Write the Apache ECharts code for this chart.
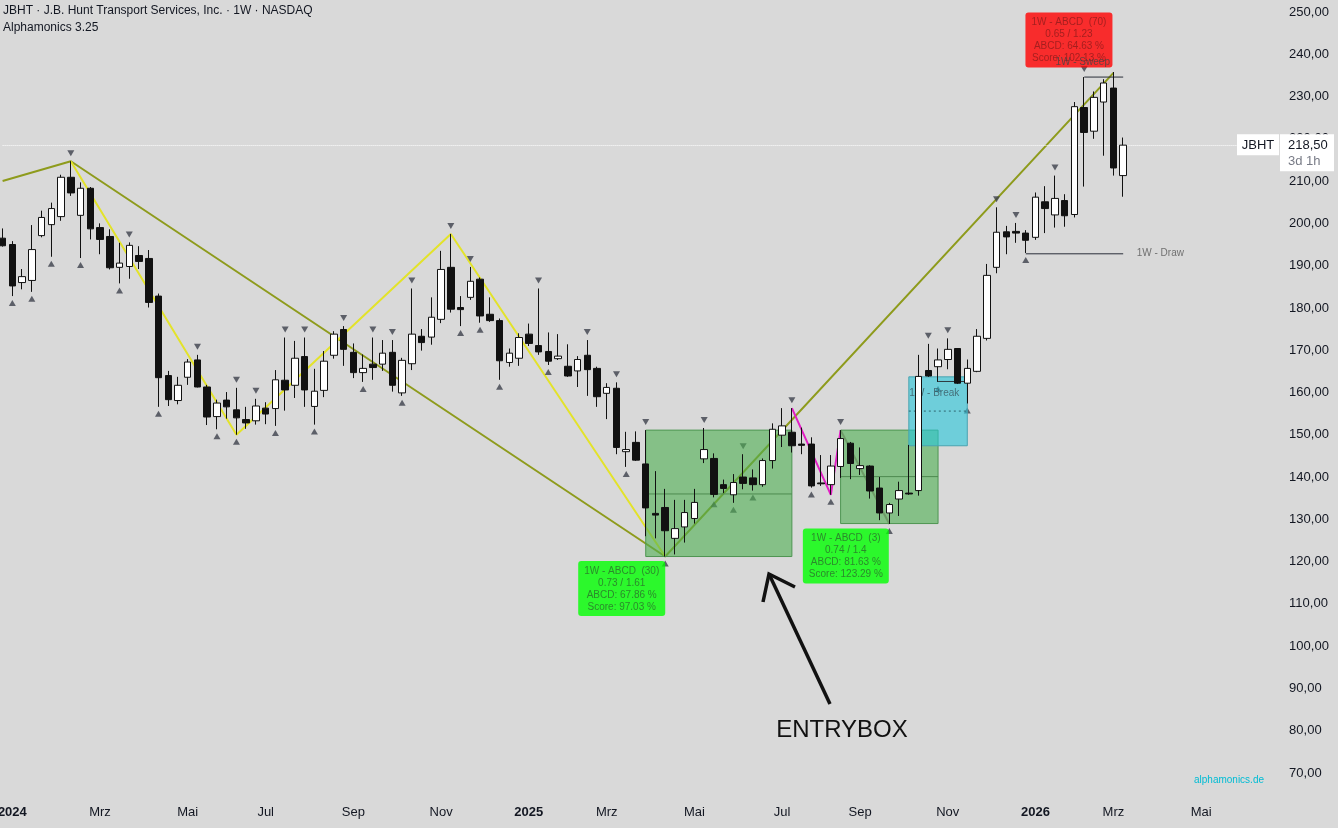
<!DOCTYPE html>
<html><head><meta charset="utf-8">
<script src="https://cdn.jsdelivr.net/npm/echarts@6/dist/echarts.min.js"></script>
<style>html,body{margin:0;padding:0;background:#d9d9d9;}#c{width:1338px;height:828px;}</style>
</head><body><div id="c"></div>
<script>
// ---------- data ----------
const firstWeek = '2023-12-25';
const weekCount = 132;           // weekly categories incl. empty future weeks
const monthNames = ['Jan','Feb','Mrz','Apr','Mai','Jun','Jul','Aug','Sep','Okt','Nov','Dez'];

const opens = [
 196.5,195.0,186.0,186.5,197.1,199.7,201.6,210.9,201.9,208.3,
 199.0,196.9,189.6,189.8,192.4,191.7,182.8,164.0,158.1,163.6,
 167.7,161.3,154.3,158.2,155.9,153.6,153.3,156.3,156.2,162.9,
 161.7,168.5,156.7,160.5,168.8,174.9,169.5,164.7,166.7,166.7,
 169.5,159.9,166.8,173.3,173.1,177.3,189.6,180.1,182.5,186.8,
 178.5,177.0,167.1,168.1,173.8,171.1,169.7,168.0,166.2,165.1,
 168.8,165.7,159.8,161.0,146.0,148.2,143.1,131.4,132.8,125.5,
 128.2,130.2,144.3,144.4,138.2,135.8,140.0,139.8,138.2,143.9,
 149.9,150.6,147.8,147.8,138.6,138.2,142.5,148.0,142.0,142.6,
 137.4,131.5,134.8,136.2,136.8,165.2,166.1,167.8,170.4,162.2,
 165.0,172.8,189.6,198.0,198.1,197.7,196.7,205.1,202.0,205.4,
 202.1,227.4,221.8,228.7,232.0,211.3];
const closes = [
 194.7,185.2,187.4,193.8,201.4,203.5,210.9,207.2,208.3,198.7,
 196.2,189.5,190.6,194.8,191.0,181.3,163.5,158.3,161.7,167.2,
 161.3,154.2,157.5,156.6,154.0,152.8,156.8,154.9,163.0,160.6,
 168.1,160.6,160.3,167.4,173.8,170.2,164.7,165.7,165.9,169.3,
 161.7,167.6,173.8,171.8,177.8,189.1,179.7,179.6,186.3,178.1,
 177.0,167.5,169.3,173.0,171.6,169.6,167.4,168.6,163.9,167.8,
 165.4,159.0,161.2,147.0,146.5,144.0,132.7,131.0,127.3,127.8,
 131.6,134.0,146.5,135.9,137.3,138.7,138.5,138.2,143.9,151.3,
 152.1,147.4,147.5,137.9,138.4,142.6,149.1,143.2,142.7,136.7,
 131.5,133.5,136.8,136.0,163.8,163.9,167.7,170.2,162.2,165.7,
 173.3,187.7,197.9,196.8,197.7,196.0,206.2,203.5,205.9,201.8,
 227.6,221.5,229.8,233.2,213.1,218.5];
const lows = [
 194.5,182.8,184.4,183.8,196.7,192.1,200.6,206.5,191.8,196.2,
 192.7,189.1,185.8,186.9,189.2,180.1,156.6,156.8,157.2,161.8,
 161.2,152.3,151.3,153.8,150.0,151.4,152.4,152.5,152.1,155.7,
 158.7,156.6,152.4,158.9,168.0,166.3,163.4,162.5,163.0,165.1,
 160.2,159.2,165.3,169.9,171.3,176.4,178.9,175.7,181.9,176.5,
 176.7,163.0,166.1,166.3,171.0,168.9,166.5,167.7,163.7,161.3,
 159.2,156.6,153.7,145.4,142.4,143.8,126.0,125.5,121.2,121.7,
 124.5,129.0,143.3,135.2,136.2,133.9,137.1,136.8,137.7,142.0,
 147.1,145.8,145.4,137.5,137.9,135.8,139.8,139.5,140.5,134.9,
 129.8,128.9,130.8,135.8,135.6,163.7,162.5,165.5,162.0,157.4,
 164.8,172.3,188.2,192.7,195.4,193.0,196.1,197.7,199.0,199.2,
 201.4,208.7,220.0,216.0,211.3,206.3];
const highs = [
 198.8,195.8,189.2,199.6,203.0,204.9,211.5,214.7,209.7,208.6,
 200.0,198.6,195.4,195.5,194.6,193.7,183.4,165.1,163.7,167.9,
 168.9,161.8,158.3,160.1,161.1,156.6,158.5,157.7,165.3,173.0,
 172.2,173.0,165.6,169.8,174.5,175.7,171.6,169.0,173.0,172.4,
 172.4,168.2,184.6,175.0,182.5,193.5,197.5,182.8,189.7,187.2,
 182.5,177.5,170.4,174.0,176.3,184.6,174.2,173.8,171.4,168.6,
 172.4,166.1,162.2,162.4,150.7,150.8,151.1,141.4,137.2,134.6,
 134.6,137.2,151.6,145.6,139.4,140.7,145.4,141.8,144.4,152.7,
 156.3,156.3,151.7,149.4,145.2,145.2,151.1,148.3,147.0,142.8,
 140.0,133.9,138.9,147.6,168.9,171.5,170.4,172.8,170.4,167.8,
 175.0,190.4,203.8,199.4,200.1,198.4,207.3,208.8,211.3,206.9,
 228.7,234.6,231.2,234.1,235.8,220.3];

const pivotHighIdx = [7,13,20,24,26,29,31,35,38,40,42,46,48,55,60,63,66,72,76,81,86,95,97,102,104,108,111];
const pivotLowIdx  = [1,3,5,8,12,16,22,24,28,32,37,41,47,49,51,56,64,68,73,75,77,83,85,91,96,99,105];

const olivePath   = [[0,210.0],[7,214.7],[68,121.2],[114,235.6]];
const yellowPath  = [[7,214.7],[24,150.0],[46,197.5],[68,121.2]];
const magentaPath = [[81,156.3],[85,135.8],[86,151.1]];
const mauvePath   = [[86,151.1],[91,128.9]];

// [fromWeek, toWeek, top, bottom, midLevel]
const entryBoxes = [[66,81,151.1,121.2,136.0],[86,96,151.1,129.0,140.1]];
const breakBoxes = [[93,99,163.7,147.4,155.6]];

const drawLevel  = [[105,192.8],[115,192.8]];
const sweepLevel = [[111,234.6],[115,234.6]];
const breakLevel = [[96,162.6],[99,162.6]];

const abcdLabels = [
  {at:[68,121.2], text:['1W - ABCD  (30)','0.73 / 1.61','ABCD: 67.86 %','Score: 97.03 %'], kind:'green'},
  {at:[91,128.9], text:['1W - ABCD  (3)','0.74 / 1.4','ABCD: 81.63 %','Score: 123.29 %'], kind:'green'},
  {at:[114,235.8], text:['1W - ABCD  (70)','0.65 / 1.23','ABCD: 64.63 %','Score: 102.13 %'], kind:'red'}
];
const lastPrice = 218.5;
const ticker = 'JBHT';
const countdown = '3d 1h';

// ---------- build ----------
const FONT = 'Liberation Sans, Arial, sans-serif';
const categories = [];
const t0 = Date.parse(firstWeek + 'T00:00:00Z');
for (let k = 0; k < weekCount; k++) categories.push(new Date(t0 + k * 7 * 86400000).toISOString().slice(0,10));
const candles = opens.map((o,i) => [o, closes[i], lows[i], highs[i]]);
const fmtPrice = v => v.toFixed(2).replace('.', ',');
const HIDE = 'rgba(0,0,0,0)';

function boxRenderer(fill, stroke, midStroke, midDash) {
  return function (params, api) {
    const a = api.coord([api.value(0), api.value(2)]);
    const b = api.coord([api.value(1), api.value(3)]);
    const m0 = api.coord([api.value(0), api.value(4)]);
    const m1 = api.coord([api.value(1), api.value(4)]);
    return {type:'group', children:[
      {type:'rect', shape:{x:a[0], y:a[1], width:b[0]-a[0], height:b[1]-a[1]}, style:{fill:fill, stroke:stroke, lineWidth:1}},
      {type:'line', shape:{x1:m0[0], y1:m0[1], x2:m1[0], y2:m1[1]}, style:{stroke:midStroke, lineWidth:1, lineDash:midDash}}
    ]};
  };
}
function pathSeries(data, color, width, z) {
  return {type:'line', data:data, symbol:'none', showSymbol:false, silent:true, z:z, clip:false,
          lineStyle:{color:color, width:width}, animation:false};
}
function textPoint(at, text, pos, align, vAlign, color, z) {
  return {type:'scatter', z:z, silent:true, symbolSize:1, itemStyle:{color:HIDE},
    data:[{value:at, label:{show:true, formatter:text, position:pos, align:align, verticalAlign:vAlign,
      color:color, fontSize:10, fontFamily:FONT}}]};
}

const chart = echarts.init(document.getElementById('c'), null, {renderer:'canvas'});
const series = [
  pathSeries(olivePath, '#8e9b1c', 2, 1),
  pathSeries(yellowPath, '#e3e32a', 2, 1),
  pathSeries(magentaPath, '#e21fc4', 2, 1),
  pathSeries(mauvePath, '#a17f8b', 2, 1),
  {type:'scatter', z:2, silent:true, symbol:'triangle', symbolSize:[7,6], symbolRotate:180, symbolOffset:[0,-8],
   itemStyle:{color:'#3c404b'}, data: pivotHighIdx.map(j => [j, highs[j]])},
  {type:'scatter', z:2, silent:true, symbol:'triangle', symbolSize:[7,6], symbolOffset:[0,7],
   itemStyle:{color:'#3c404b'}, data: pivotLowIdx.map(j => [j, lows[j]])},
  {type:'custom', z:3, silent:true, renderItem: boxRenderer('rgba(76,175,80,0.6)','#4f9552','#4d8a4f',null),
   encode:{x:[0,1], y:[2,3]}, data: entryBoxes},
  {type:'custom', z:3, silent:true, renderItem: boxRenderer('rgba(38,198,218,0.6)','#4aa3b0','#2e6670',[2,3]),
   encode:{x:[0,1], y:[2,3]}, data: breakBoxes},
  pathSeries(breakLevel, '#2f3a40', 1, 4),
  textPoint([breakBoxes[0][0], breakBoxes[0][2]], '1W - Break', [1,17], 'left', 'middle', '#3b5860', 4),
  {type:'candlestick', z:5, data: candles, barWidth:7, silent:true, clip:false,
   itemStyle:{color:'#ffffff', color0:'#111111', borderColor:'#111111', borderColor0:'#111111', borderWidth:1},
   markLine:{symbol:['none','none'], silent:true, label:{show:false}, animation:false,
     lineStyle:{color:'#ffffff', type:'dotted', width:1}, data:[{yAxis:lastPrice}]}},
  pathSeries(drawLevel, '#2a2e39', 1, 5),
  pathSeries(sweepLevel, '#2a2e39', 1, 5),
  textPoint(drawLevel[1], '1W - Draw', [14,0], 'left', 'middle', '#555555', 5),
  {type:'scatter', z:6, silent:true, symbolSize:1, itemStyle:{color:HIDE},
   data: abcdLabels.map(l => ({value:l.at, label:{show:true, formatter:l.text.join('\n'),
     position: l.kind === 'red' ? [-44,-4] : [-43,5], align:'center',
     verticalAlign: l.kind === 'red' ? 'bottom' : 'top',
     backgroundColor: l.kind === 'red' ? '#ff0000' : '#00ff00',
     color: l.kind === 'red' ? '#8e1b1b' : '#2c6e2c',
     fontSize:10, lineHeight:12, padding:[4,6,3,6], borderRadius:3, fontFamily:FONT}}))},
  textPoint(sweepLevel[0], '1W - Sweep', [-1,-14], 'center', 'middle', '#444444', 7)
];

chart.setOption({
  animation:false,
  backgroundColor:'#d9d9d9',
  textStyle:{fontFamily:FONT},
  grid:{left:2.6, right:58.9, top:0, bottom:12.72, containLabel:false, outerBoundsMode:'none'},
  xAxis:{type:'category', data:categories, boundaryGap:false, offset:-17,
    axisLine:{show:false}, axisTick:{show:false}, splitLine:{show:false},
    axisLabel:{color:'#131722', fontSize:13, margin:8, fontFamily:FONT, hideOverlap:false,
      interval:(idx, val) => { const d = new Date(val + 'T00:00:00Z'); return d.getUTCDate() <= 7 && d.getUTCMonth() % 2 === 0; },
      formatter:(val) => { const d = new Date(val + 'T00:00:00Z'); const m = d.getUTCMonth();
        return m === 0 ? '{y|' + d.getUTCFullYear() + '}' : monthNames[m]; },
      rich:{y:{fontWeight:'bold', fontSize:13, color:'#131722', fontFamily:FONT}}}},
  yAxis:{type:'value', position:'right', min:60, max:252.83, interval:10, scale:false,
    axisLine:{show:false}, axisTick:{show:false}, splitLine:{show:false},
    axisLabel:{color:'#131722', fontSize:13, margin:10, fontFamily:FONT, showMaxLabel:false,
      formatter:v => (v < 65 || Math.abs(v - Math.round(v / 10) * 10) > 0.01) ? '' : fmtPrice(v)}},
  series: series
});

const yLast = chart.convertToPixel({yAxisIndex:0}, lastPrice);
chart.setOption({graphic:[
  {type:'text', left:3, top:5, style:{text:'JBHT · J.B. Hunt Transport Services, Inc. · 1W · NASDAQ', fontSize:12, fill:'#131722', fontFamily:FONT}},
  {type:'text', left:3, top:22, style:{text:'Alphamonics 3.25', fontSize:12, fill:'#131722', fontFamily:FONT}},
  {type:'rect', shape:{x:1237, y:yLast-11, width:42, height:21}, style:{fill:'#ffffff'}, z:100},
  {type:'text', x:1258, y:yLast, style:{text:ticker, fontSize:13, fill:'#131722', align:'center', verticalAlign:'middle', fontFamily:FONT}, z:101},
  {type:'rect', shape:{x:1280, y:yLast-11, width:54, height:37}, style:{fill:'#ffffff'}, z:100},
  {type:'text', x:1288, y:yLast, style:{text:fmtPrice(lastPrice), fontSize:13, fill:'#131722', verticalAlign:'middle', fontFamily:FONT}, z:101},
  {type:'text', x:1288, y:yLast+16, style:{text:countdown, fontSize:13, fill:'#787b86', verticalAlign:'middle', fontFamily:FONT}, z:101},
  {type:'polyline', shape:{points:[[830,704],[769,574]]}, style:{stroke:'#111111', lineWidth:3.5, fill:null}, z:100},
  {type:'polyline', shape:{points:[[763,602],[769,574],[795,587]]}, style:{stroke:'#111111', lineWidth:3.5, fill:null, lineJoin:'miter'}, z:100},
  {type:'text', x:842, y:730, style:{text:'ENTRYBOX', fontSize:24, fill:'#111111', align:'center', verticalAlign:'middle', fontFamily:FONT}, z:100},
  {type:'text', x:1229, y:780, style:{text:'alphamonics.de', fontSize:10, fill:'#00bcd4', align:'center', verticalAlign:'middle', fontFamily:FONT}, z:100}
]});
</script></body></html>
